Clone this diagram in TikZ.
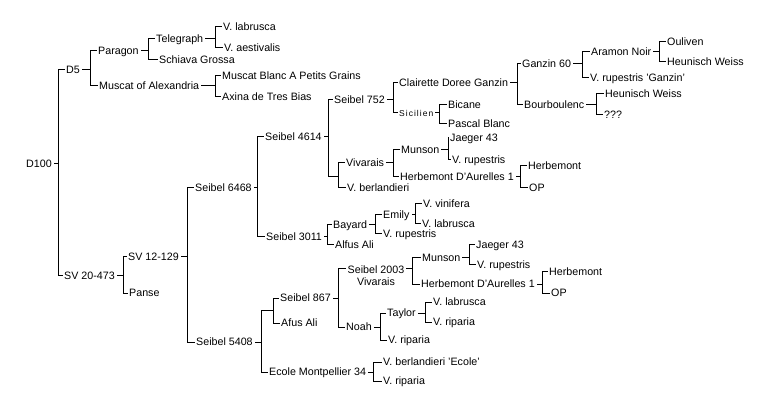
\documentclass[tikz,border=0pt]{standalone}
\usepackage{fontspec}
\setmainfont{Liberation Sans}
\begin{document}
\begin{tikzpicture}[x=1pt,y=-1pt,
  link/.style={draw=black,line width=1pt,line join=miter,line cap=rect},
  txt/.style={anchor=west,inner sep=0pt,text height=7.6pt,text depth=0pt,
    font=\fontsize{10.7}{12}\selectfont},
  small/.style={anchor=west,inner sep=0pt,text height=6.1pt,text depth=0pt,
    font=\fontsize{8.5}{10}\selectfont\addfontfeature{LetterSpace=12}}]
\fill[white] (0,0) rectangle (764,417);
\useasboundingbox (0,0) rectangle (764,417);
\def\pg{2.5pt}\def\cg{2pt}
\newcommand\pedfam[4]{%
  \coordinate (#1-v) at (#2,0);
  \draw[link] ([xshift=\pg]#1.east) -- (#1.east -| #1-v);
  \draw[link] ([xshift=-\cg]#3.west) -- (#3.west -| #1-v) -- (#4.west -| #1-v) -- ([xshift=-\cg]#4.west);
}
% nodes
\node[txt] (D100) at (26,164) {D100};
\node[txt] (D5) at (66,70) {D5};
\node[txt] (SV20) at (64,276) {SV 20-473};
\node[txt] (Paragon) at (98,51) {Paragon};
\node[txt] (MoA) at (99,86) {Muscat of Alexandria};
\node[txt] (Telegraph) at (156,39) {Telegraph};
\node[txt] (Schiava) at (159,60) {Schiava Grossa};
\node[txt] (VlabA) at (223,27) {V. labrusca};
\node[txt] (Vaest) at (224,48) {V. aestivalis};
\node[txt] (MBAPG) at (222,76) {Muscat Blanc A Petits Grains};
\node[txt] (Axina) at (222,97) {Axina de Tres Bias};
\node[txt] (SV12) at (128,257) {SV 12-129};
\node[txt] (Panse) at (129,293) {Panse};
\node[txt] (S6468) at (195,188) {Seibel 6468};
\node[txt] (S5408) at (196,342) {Seibel 5408};
\node[txt] (S4614) at (265,137) {Seibel 4614};
\node[txt] (S3011) at (266,237) {Seibel 3011};
\node[txt] (S752) at (334,100) {Seibel 752};
\node[txt] (Viv) at (346,163) {Vivarais};
\node[txt] (Vberl) at (347,188) {V. berlandieri};
\node[txt] (Clair) at (399,83) {Clairette Doree Ganzin};
\node[small] (Sicil) at (399,113) {Sicilien};
\node[txt] (Ganzin) at (522,64) {Ganzin 60};
\node[txt] (Bourb) at (524,105) {Bourboulenc};
\node[txt] (Aramon) at (591,52) {Aramon Noir};
\node[txt] (VrupG) at (590,78) {V. rupestris 'Ganzin'};
\node[txt] (Ouliven) at (667,42) {Ouliven};
\node[txt] (HWa) at (667,62) {Heunisch Weiss};
\node[txt] (HWb) at (605,94) {Heunisch Weiss};
\node[txt] (QQQ) at (604,115) {???};
\node[txt] (Bicane) at (448,105) {Bicane};
\node[txt] (Pascal) at (448,124) {Pascal Blanc};
\node[txt] (MunA) at (401,150) {Munson};
\node[txt] (HDAa) at (400,177) {Herbemont D'Aurelles 1};
\node[txt] (JaegA) at (450,138) {Jaeger 43};
\node[txt] (VrupA) at (452,160) {V. rupestris};
\node[txt] (HerbA) at (528,166) {Herbemont};
\node[txt] (OPa) at (529,188) {OP};
\node[txt] (Bayard) at (333,225) {Bayard};
\node[txt] (Alfus) at (335,245) {Alfus Ali};
\node[txt] (Emily) at (383,215) {Emily};
\node[txt] (VrupB) at (383,234) {V. rupestris};
\node[txt] (Vvin) at (423,204) {V. vinifera};
\node[txt] (VlabB) at (422,224) {V. labrusca};
\node[txt] (S867) at (280,298) {Seibel 867};
\node[txt] (Afus) at (281,323) {Afus Ali};
\node[txt] (Ecole) at (269,372) {Ecole Montpellier 34};
\node[anchor=north,inner sep=0pt,align=center,font=\fontsize{10.7}{12}\selectfont] (S2003) at (376,265.2) {Seibel 2003\\Vivarais};
\node[txt] (MunB) at (422,258) {Munson};
\node[txt] (HDAb) at (421,284) {Herbemont D'Aurelles 1};
\node[txt] (JaegB) at (476,245) {Jaeger 43};
\node[txt] (VrupC) at (477,265) {V. rupestris};
\node[txt] (HerbB) at (549,272) {Herbemont};
\node[txt] (OPb) at (551,293) {OP};
\node[txt] (Noah) at (346,327) {Noah};
\node[txt] (Taylor) at (387,313) {Taylor};
\node[txt] (VripA) at (388,340) {V. riparia};
\node[txt] (VlabC) at (433,302) {V. labrusca};
\node[txt] (VripB) at (433,322) {V. riparia};
\node[txt] (VberlE) at (383,362) {V. berlandieri 'Ecole'};
\node[txt] (VripC) at (383,381) {V. riparia};
% standard families
\pedfam{D100}{58}{D5}{SV20}
\pedfam{D5}{90}{Paragon}{MoA}
\pedfam{SV20}{123}{SV12}{Panse}
\pedfam{Paragon}{148}{Telegraph}{Schiava}
\pedfam{Telegraph}{215}{VlabA}{Vaest}
\pedfam{MoA}{215}{MBAPG}{Axina}
\pedfam{SV12}{187}{S6468}{S5408}
\pedfam{S6468}{257}{S4614}{S3011}
\pedfam{S752}{393}{Clair}{Sicil}
\pedfam{Clair}{517}{Ganzin}{Bourb}
\pedfam{Ganzin}{582}{Aramon}{VrupG}
\pedfam{Aramon}{659}{Ouliven}{HWa}
\pedfam{Bourb}{596}{HWb}{QQQ}
\pedfam{Sicil}{439}{Bicane}{Pascal}
\pedfam{Viv}{393}{MunA}{HDAa}
\pedfam{MunA}{448}{JaegA}{VrupA}
\pedfam{HDAa}{520}{HerbA}{OPa}
\pedfam{S3011}{327}{Bayard}{Alfus}
\pedfam{Bayard}{375}{Emily}{VrupB}
\pedfam{Emily}{415}{Vvin}{VlabB}
\pedfam{MunB}{469}{JaegB}{VrupC}
\pedfam{HDAb}{542}{HerbB}{OPb}
\pedfam{Noah}{380}{Taylor}{VripA}
\pedfam{Taylor}{425}{VlabC}{VripB}
\pedfam{Ecole}{373}{VberlE}{VripC}
% Seibel 4614 with junction
\coordinate (v4614) at (328,0);
\coordinate (j4614) at (338,177);
\draw[link] ([xshift=\pg]S4614.east) -- (S4614.east -| v4614);
\draw[link] ([xshift=-\cg]S752.west) -- (S752.west -| v4614) -- (v4614 |- j4614) -- (j4614);
\draw[link] ([xshift=-\cg]Viv.west) -- (Viv.west -| j4614) -- (Vberl.west -| j4614) -- ([xshift=-\cg]Vberl.west);
% Seibel 5408 with junction
\coordinate (v5408) at (261,0);
\coordinate (j5408) at (273,310);
\draw[link] ([xshift=\pg]S5408.east) -- (S5408.east -| v5408);
\draw[link] (j5408) -- (v5408 |- j5408) -- (Ecole.west -| v5408) -- ([xshift=-\cg]Ecole.west);
\draw[link] ([xshift=-\cg]S867.west) -- (S867.west -| j5408) -- (Afus.west -| j5408) -- ([xshift=-\cg]Afus.west);
% Seibel 867
\coordinate (v867) at (338,0);
\coordinate (s2003t) at ([yshift=-3.8pt]S2003.north west);
\draw[link] ([xshift=\pg]S867.east) -- (S867.east -| v867);
\draw[link] ([xshift=-\cg]s2003t) -- (s2003t -| v867) -- (Noah.west -| v867) -- ([xshift=-\cg]Noah.west);
% Seibel 2003
\coordinate (v2003) at (412,0);
\coordinate (s2003e) at ([yshift=-3.8pt]S2003.north east);
\draw[link] ([xshift=\pg]s2003e) -- (s2003e -| v2003);
\draw[link] ([xshift=-\cg]MunB.west) -- (MunB.west -| v2003) -- (HDAb.west -| v2003) -- ([xshift=-\cg]HDAb.west);
\end{tikzpicture}
\end{document}
